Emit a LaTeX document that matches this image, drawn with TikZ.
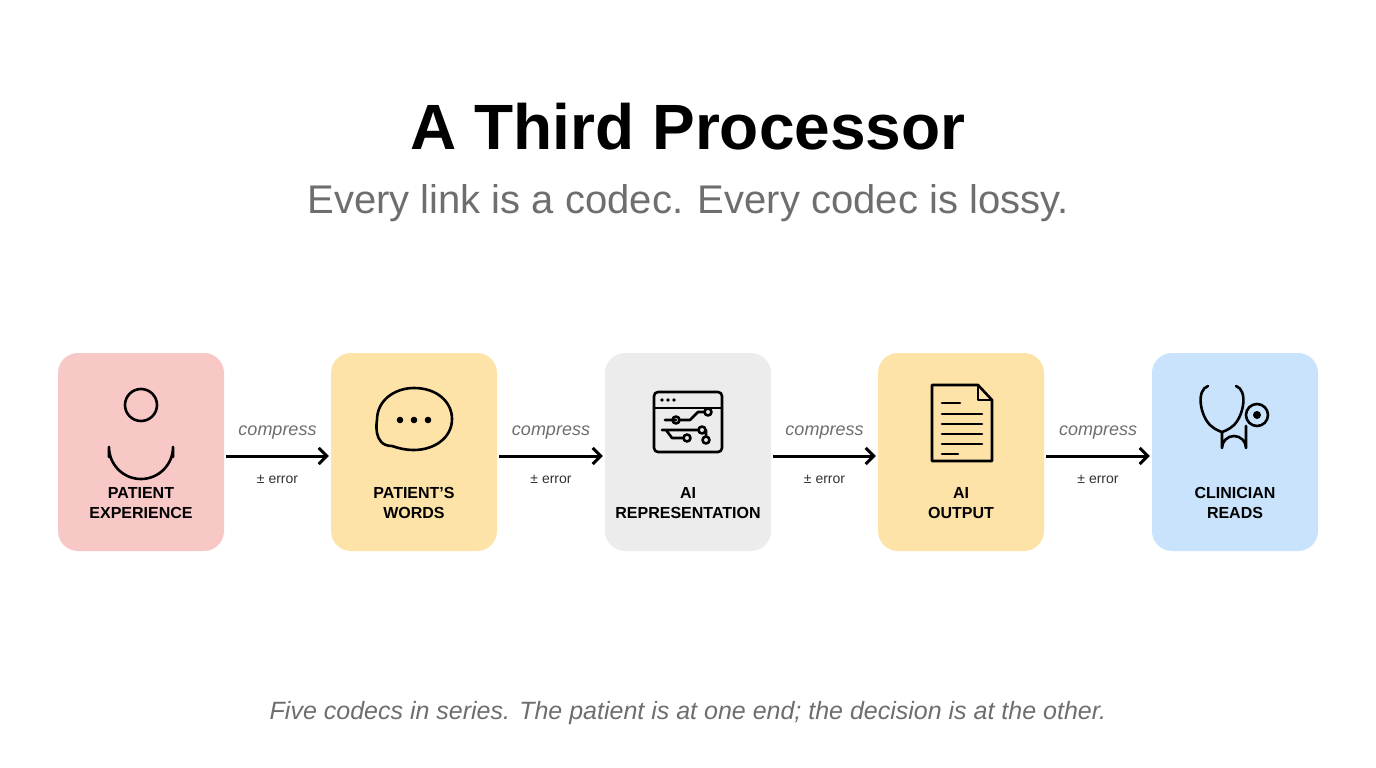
\documentclass[tikz,border=0pt]{standalone}
\usepackage{fontspec}
\setmainfont{Liberation Sans}
\usetikzlibrary{arrows.meta}
\definecolor{cpink}{HTML}{F7C8C5}
\definecolor{cyel}{HTML}{FDE3A8}
\definecolor{cgray}{HTML}{ECECEC}
\definecolor{cblue}{HTML}{C8E3FB}
\definecolor{tgray}{HTML}{6E6E6E}
\tikzset{
 card/.style={rounded corners=20pt,minimum width=166pt,minimum height=198pt,draw=none},
 lab/.style={font=\fontsize{16}{20}\selectfont\bfseries,align=center},
 comp/.style={font=\fontsize{18}{20}\selectfont\itshape,text=tgray},
 err/.style={font=\fontsize{14}{16}\selectfont,text=black!80},
 flow/.style={line width=3pt,-{Straight Barb[length=8pt,width=16pt,line width=3pt]}},
 ic/.style={line width=2.6pt,line cap=round,line join=round}
}
\begin{document}
\begin{tikzpicture}[x=1pt,y=-1pt]
\useasboundingbox (0,0) rectangle (1376,768);
\fill[white] (0,0) rectangle (1376,768);
\node[font=\fontsize{64}{70}\selectfont\bfseries] (title) at (688,127) {A Third Processor};
\node[font=\fontsize{40}{46}\selectfont,text=tgray] (sub) at (688,203) {Every link is a codec. Every codec is lossy.};
\node[font=\fontsize{25}{30}\selectfont\itshape,text=tgray] (foot) at (688,713) {Five codecs in series. The patient is at one end; the decision is at the other.};
\node[card,fill=cpink] (b1) at (141,452) {};
\node[card,fill=cyel] (b2) at (414,452) {};
\node[card,fill=cgray] (b3) at (688,452) {};
\node[card,fill=cyel] (b4) at (961,452) {};
\node[card,fill=cblue] (b5) at (1235,452) {};
\node[lab] at (141,503) {PATIENT\\EXPERIENCE};
\node[lab] at (414,503) {PATIENT'S\\WORDS};
\node[lab] at (688,503) {AI\\REPRESENTATION};
\node[lab] at (961,503) {AI\\OUTPUT};
\node[lab] at (1235,503) {CLINICIAN\\READS};
\foreach \a/\b in {b1/b2,b2/b3,b3/b4,b4/b5}{
 \draw[flow] ([xshift=2pt,yshift=-4pt]\a.east) -- ([xshift=-2pt,yshift=-4pt]\b.west) node[midway,above=12pt,comp]{compress} node[midway,below=14pt,err]{± error};
}
% person
\draw[ic] (141,405) circle (16);
\draw[ic] (109,457) -- (109,447) arc[start angle=180,end angle=0,radius=32] -- (173,457);
% speech bubble
\draw[ic] (392,446) .. controls (372,446) and (377,420) .. (377,420) .. controls (377,400) and (395,388) .. (414,388) .. controls (437,388) and (452,402) .. (452,419) .. controls (452,438) and (434,450) .. (414,450) .. controls (405,450) and (398,448) .. (392,446) -- cycle;
\fill (400,420) circle (3.3) (414,420) circle (3.3) (428,420) circle (3.3);
% AI window
\draw[ic,rounded corners=4pt] (654,392) rectangle (722,452);
\draw[ic] (654,408) -- (722,408);
\fill (662,400) circle (1.8) (668,400) circle (1.8) (674,400) circle (1.8);
\draw[ic] (665,420) -- (676,420) (680,420) -- (690,420) -- (698,412) -- (704,412);
\draw[ic] (676,420) circle (3.5) (708,412) circle (3.5) (702,430) circle (3.5) (687,438) circle (3.5);
\draw[ic] (662,430) -- (698,430) (666,430) -- (672,438) -- (683,438) (706,430) -- (706,436);
\draw[ic] (706,440) circle (3.5);
% document
\draw[ic,line cap=butt] (932,385) -- (978,385) -- (992,400) -- (992,461) -- (932,461) -- cycle;
\draw[ic] (978,385) -- (978,400) -- (992,400);
\foreach \y/\e in {403/960,414/982,424/982,434/982,444/982,454/958}{\draw[ic] (942,\y) -- (\e,\y);}
% stethoscope
\draw[ic] (1208,386) .. controls (1196,390) and (1200,415) .. (1210,425) .. controls (1215,430) and (1222,432) .. (1222,432) .. controls (1222,432) and (1229,430) .. (1234,425) .. controls (1244,415) and (1248,390) .. (1236,386);
\draw[ic] (1222,432) -- (1222,448) arc[start angle=180,end angle=360,radius=12] -- (1246,426);
\draw[ic] (1257,415) circle (11);
\fill (1257,415) circle (4);
\end{tikzpicture}
\end{document}
